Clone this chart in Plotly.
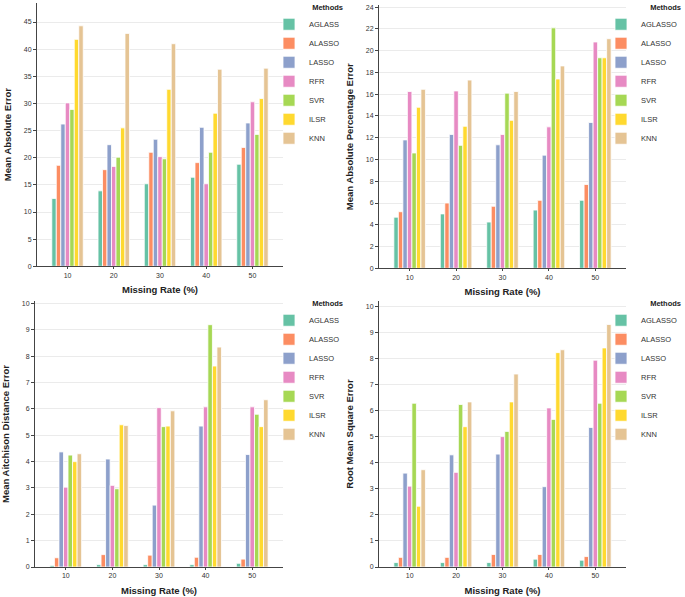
import plotly.graph_objects as go

missing_rates = ["10", "20", "30", "40", "50"]
methods = ["AGLASSO", "ALASSO", "LASSO", "RFR", "SVR", "ILSR", "KNN"]
labels_left = ["AGLASS", "ALASSO", "LASSO", "RFR", "SVR", "ILSR", "KNN"]
colors = ["#66c2a5", "#fc8d62", "#8da0cb", "#e78ac3", "#a6d854", "#ffd92f", "#e5c494"]

# rows: AGLASSO, ALASSO, LASSO, RFR, SVR, ILSR, KNN ; columns: missing rate 10..50
mae = [
    [12.5, 13.9, 15.2, 16.4, 18.8],
    [18.6, 17.8, 21.0, 19.1, 21.9],
    [26.2, 22.4, 23.4, 25.6, 26.4],
    [30.1, 18.4, 20.2, 15.2, 30.3],
    [28.9, 20.1, 19.8, 21.0, 24.3],
    [41.8, 25.5, 32.6, 28.2, 30.9],
    [44.3, 42.9, 41.0, 36.3, 36.5],
]
mape = [
    [4.7, 5.0, 4.25, 5.35, 6.25],
    [5.2, 6.0, 5.7, 6.25, 7.7],
    [11.8, 12.3, 11.35, 10.4, 13.4],
    [16.25, 16.3, 12.3, 13.0, 20.8],
    [10.6, 11.3, 16.1, 22.1, 19.35],
    [14.8, 13.05, 13.6, 17.4, 19.35],
    [16.45, 17.3, 16.25, 18.6, 21.1],
]
made = [
    [0.06, 0.09, 0.09, 0.09, 0.14],
    [0.35, 0.47, 0.45, 0.37, 0.30],
    [4.37, 4.10, 2.35, 5.35, 4.27],
    [3.03, 3.10, 6.05, 6.08, 6.08],
    [4.25, 2.97, 5.33, 9.20, 5.80],
    [4.00, 5.40, 5.35, 7.63, 5.33],
    [4.30, 5.37, 5.93, 8.35, 6.35],
]
rmse = [
    [0.17, 0.17, 0.17, 0.30, 0.26],
    [0.37, 0.37, 0.48, 0.48, 0.40],
    [3.60, 4.30, 4.33, 3.08, 5.35],
    [3.10, 3.63, 5.00, 6.10, 7.93],
    [6.28, 6.23, 5.20, 5.66, 6.28],
    [2.33, 5.38, 6.33, 8.22, 8.40],
    [3.73, 6.33, 7.40, 8.33, 9.30],
]

W, H = 685, 597
FONT = "Liberation Sans"

panels = [
    dict(data=mae, ytitle="Mean Absolute Error", yrange=[0, 48.5], dtick=5,
         xpx=(37, 283), ypx=(3, 266.3), labels=labels_left, leg=(269, 0)),
    dict(data=mape, ytitle="Mean Absolute Percentage Error", yrange=[0, 24.2], dtick=2,
         xpx=(379, 626), ypx=(5, 268.3), labels=methods, leg=(601, 0)),
    dict(data=made, ytitle="Mean Aitchison Distance Error", yrange=[0, 10.1], dtick=1,
         xpx=(35, 283), ypx=(301, 567), labels=labels_left, leg=(269, 296)),
    dict(data=rmse, ytitle="Root Mean Square Error", yrange=[0, 10.2], dtick=1,
         xpx=(379, 626), ypx=(301, 567), labels=methods, leg=(601, 296)),
]

fig = go.Figure()
layout = dict(
    width=W, height=H, margin=dict(l=0, r=0, t=0, b=0),
    paper_bgcolor="white", plot_bgcolor="white", template="none",
    font=dict(family=FONT, color="#333", size=8),
    barmode="group", bargap=0.32, bargroupgap=0,
)

for i, p in enumerate(panels):
    k = "" if i == 0 else str(i + 1)
    legname = "legend" + k
    for m, (vals, lab, col) in enumerate(zip(p["data"], p["labels"], colors)):
        fig.add_trace(go.Bar(
            x=missing_rates, y=vals, name=lab,
            marker=dict(color=col, line=dict(color="white", width=0.8)),
            xaxis="x" + k, yaxis="y" + k, legend=legname,
        ))
    x0, x1 = p["xpx"]
    y0, y1 = p["ypx"]
    layout["xaxis" + k] = dict(
        domain=[x0 / W, x1 / W], anchor="y" + k, type="category",
        range=[-0.66, 4.66], showline=True, linecolor="#444", linewidth=1,
        ticks="outside", ticklen=2, tickcolor="#444", showgrid=False,
        tickfont=dict(size=7, color="#333"), automargin=False, zeroline=False,
        title=dict(text="Missing Rate (%)", standoff=8,
                   font=dict(size=9.5, weight="bold", color="#222")),
    )
    layout["yaxis" + k] = dict(
        domain=[1 - y1 / H, 1 - y0 / H], anchor="x" + k, range=p["yrange"],
        dtick=p["dtick"], tick0=0, showline=True, linecolor="#444", linewidth=1,
        ticks="outside", ticklen=3, tickcolor="#444", showgrid=True,
        gridcolor="#ebebeb", gridwidth=1, zeroline=False,
        tickfont=dict(size=7, color="#333"), automargin=False,
        title=dict(text=p["ytitle"], standoff=10,
                   font=dict(size=9.5, weight="bold", color="#222")),
    )
    lx, ly = p["leg"]
    layout[legname] = dict(
        x=lx / W, y=1 - ly / H, xanchor="left", yanchor="top",
        bgcolor="rgba(0,0,0,0)", borderwidth=0, traceorder="normal",
        font=dict(size=7.5, color="#333", family=FONT),
        title=dict(text="Methods", side="top right",
                   font=dict(size=7.5, weight="bold", color="#222")),
    )

fig.update_layout(**layout)
fig.write_html("out.html", config={"displayModeBar": False},
               post_script="document.body.style.margin='0px';")
